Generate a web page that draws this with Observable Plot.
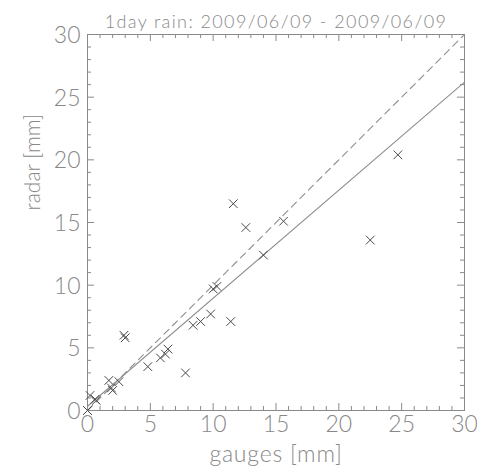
<!DOCTYPE html>
<html>
<head>
<meta charset="utf-8">
<script src="https://cdn.jsdelivr.net/npm/d3@7"></script>
<script src="https://cdn.jsdelivr.net/npm/@observablehq/plot@0.6"></script>
<style>
  html, body { margin: 0; padding: 0; background: #fff; }
</style>
</head>
<body>
<div id="chart"></div>
<script>
const title = "1day rain: 2009/06/09 - 2009/06/09";
const xLabel = "gauges [mm]";
const yLabel = "radar [mm]";

// observations (gauge vs radar daily rain, mm)
const gauges = [0, 0, 0, 0.2, 0.6, 0.7, 1.7, 1.9, 2.0, 2.5, 2.9, 3.0, 4.8, 5.8, 6.2, 6.4, 7.8, 8.4, 9.0, 9.8, 11.4, 10.0, 10.3, 11.6, 12.6, 14.0, 15.6, 22.5, 24.7];
const radar  = [0, 0, 0, 1.2, 0.9, 0.8, 2.4, 1.8, 1.6, 2.3, 6.0, 5.8, 3.5, 4.2, 4.5, 4.9, 3.0, 6.8, 7.1, 7.7, 7.1, 9.7, 9.9, 16.5, 14.6, 12.4, 15.1, 13.6, 20.4];

// fitted line parameters and 1:1 reference
const fitIntercept = 0.34;
const fitSlope = 0.862;
const lineEnds = [0, 30];

const majorTicks = [0, 5, 10, 15, 20, 25, 30];
const minorTicks = [1, 2, 3, 4, 6, 7, 8, 9, 11, 12, 13, 14, 16, 17, 18, 19, 21, 22, 23, 24, 26, 27, 28, 29];

const points = gauges.map((g, i) => ({g, r: radar[i]}));
const oneToOne = lineEnds.map(v => ({x: v, y: v}));
const fit = lineEnds.map(v => ({x: v, y: fitIntercept + fitSlope * v}));

const W = 477, H = 470, mL = 87, mR = 13, mT = 34, mB = 60;
const innerW = W - mL - mR, innerH = H - mT - mB;
const axisCol = "#8a8a8a", textCol = "#888888";
const majLen = 7, minLen = 4;
const font = "Lato, 'DejaVu Sans', sans-serif";

const chart = Plot.plot({
  width: W, height: H,
  marginLeft: mL, marginRight: mR, marginTop: mT, marginBottom: mB,
  style: {fontFamily: font, background: "#fff"},
  x: {domain: [0, 30], axis: null},
  y: {domain: [0, 30], axis: null},
  marks: [
    Plot.frame({stroke: axisCol}),
    // bottom ticks
    Plot.ruleX(majorTicks, {x: d => d, insetTop: innerH - majLen, stroke: axisCol}),
    Plot.ruleX(minorTicks, {x: d => d, insetTop: innerH - minLen, stroke: axisCol}),
    // top ticks
    Plot.ruleX(majorTicks, {x: d => d, insetBottom: innerH - majLen, stroke: axisCol}),
    Plot.ruleX(minorTicks, {x: d => d, insetBottom: innerH - minLen, stroke: axisCol}),
    // left ticks
    Plot.ruleY(majorTicks, {y: d => d, insetRight: innerW - majLen, stroke: axisCol}),
    Plot.ruleY(minorTicks, {y: d => d, insetRight: innerW - minLen, stroke: axisCol}),
    // right ticks
    Plot.ruleY(majorTicks, {y: d => d, insetLeft: innerW - majLen, stroke: axisCol}),
    Plot.ruleY(minorTicks, {y: d => d, insetLeft: innerW - minLen, stroke: axisCol}),
    // tick labels
    Plot.text(majorTicks, {x: d => d, text: d => String(d), frameAnchor: "bottom", dy: 21, fontSize: 23, fontWeight: 300, fill: textCol}),
    Plot.text(majorTicks, {y: d => d, text: d => String(d), frameAnchor: "left", textAnchor: "end", dx: -7, dy: 1, fontSize: 23, fontWeight: 300, fill: textCol}),
    // axis labels and title
    Plot.text([xLabel], {text: d => d, frameAnchor: "bottom", dy: 51, fontSize: 23, fontWeight: 300, fill: textCol}),
    Plot.text([yLabel], {text: d => d, frameAnchor: "left", rotate: -90, dx: -54, dy: -12, fontSize: 21, fontWeight: 300, fill: textCol}),
    Plot.text([title], {text: d => d, frameAnchor: "top", dy: -19, fontSize: 18, fontWeight: 300, fill: textCol}),
    // lines
    Plot.line(oneToOne, {x: "x", y: "y", stroke: "#8f8f8f", strokeWidth: 1.1, strokeDasharray: "7,5"}),
    Plot.line(fit, {x: "x", y: "y", stroke: "#8f8f8f", strokeWidth: 1.1}),
    // points
    Plot.dot(points, {x: "g", y: "r", symbol: "times", r: 4, stroke: "#4a4a4a", strokeWidth: 1})
  ]
});
// widen letter spacing to match the reference typeface
chart.querySelectorAll("text").forEach(t => {
  if (t.textContent === title) t.setAttribute("letter-spacing", "1.4");
  if (t.textContent === xLabel) t.setAttribute("letter-spacing", "0.8");
});
document.getElementById("chart").append(chart);
</script>
</body>
</html>
